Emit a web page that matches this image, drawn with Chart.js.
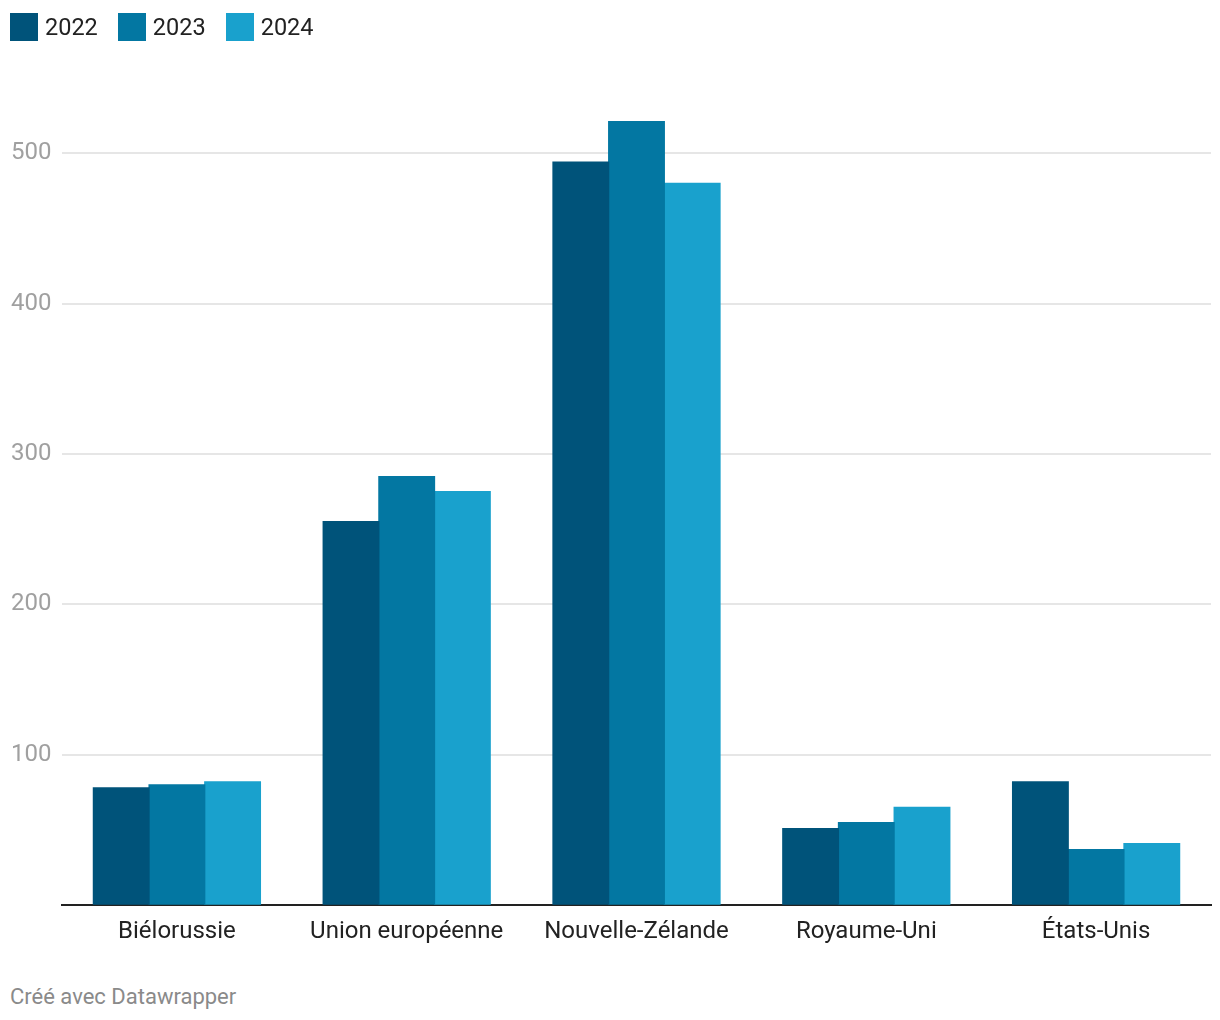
<!DOCTYPE html>
<html lang="fr">
<head>
    <meta charset="UTF-8">
    <title>Datawrapper bar chart</title>
    <script src="https://cdn.jsdelivr.net/npm/chart.js@4.4.1/dist/chart.umd.min.js"></script>
    <style>
        body {
            margin: 0;
            background: #fff;
            font-family: Roboto, "Noto Sans", sans-serif;
        }
        .wrap {
            position: relative;
            width: 1220px;
            height: 1020px;
        }
        .legend {
            position: absolute;
            left: 10px;
            top: 13px;
            display: flex;
            font-size: 23.5px;
            color: #222;
        }
        .legend-item {
            display: flex;
            align-items: center;
            margin-right: 20px;
            height: 28px;
        }
        .legend-item span.box {
            width: 28px;
            height: 28px;
            margin-right: 7px;
        }
        .chart-box {
            position: absolute;
            left: 0;
            top: 0;
            width: 1220px;
            height: 960px;
        }
        .footer {
            position: absolute;
            left: 10px;
            top: 984px;
            font-size: 22px;
            color: #8a8a8a;
        }
    </style>
</head>
<body>
<div class="wrap">
    <div class="chart-box"><canvas id="chart" width="1220" height="960"></canvas></div>
    <div class="legend" id="legend"></div>
    <div class="footer">Créé avec Datawrapper</div>
</div>

<script>
    const categories = ['Biélorussie', 'Union européenne', 'Nouvelle-Zélande', 'Royaume-Uni', 'États-Unis'];
    const years = ['2022', '2023', '2024'];
    const values2022 = [78, 255, 494, 51, 82];
    const values2023 = [80, 285, 521, 55, 37];
    const values2024 = [82, 275, 480, 65, 41];
    const colors = ['#00537a', '#0377a2', '#19a1cd'];

    const seriesValues = [values2022, values2023, values2024];

    // legend in html
    const legend = document.getElementById('legend');
    years.forEach((y, i) => {
        const item = document.createElement('div');
        item.className = 'legend-item';
        item.innerHTML = `<span class="box" style="background:${colors[i]}"></span>${y}`;
        legend.appendChild(item);
    });

    const ctx = document.getElementById('chart').getContext('2d');
    new Chart(ctx, {
        type: 'bar',
        data: {
            labels: categories,
            datasets: years.map((y, i) => ({
                label: y,
                data: seriesValues[i],
                backgroundColor: colors[i],
                borderWidth: 0,
                inflateAmount: 0.6,
                barPercentage: 1,
                categoryPercentage: 0.727
            }))
        },
        options: {
            responsive: false,
            animation: false,
            devicePixelRatio: 1,
            layout: {
                padding: { left: 11, right: 9, top: 93, bottom: 2 }
            },
            plugins: {
                legend: { display: false },
                tooltip: { enabled: false }
            },
            scales: {
                x: {
                    grid: { display: false, drawTicks: false },
                    border: { color: '#222', width: 2 },
                    ticks: {
                        color: '#222',
                        padding: 12,
                        font: { family: 'Roboto', size: 24 }
                    }
                },
                y: {
                    min: 0,
                    max: 540,
                    afterFit: scale => { scale.width = 51; },
                    border: { display: false },
                    grid: {
                        drawTicks: false,
                        lineWidth: 2,
                        color: c => (c.tick.value > 0 && c.tick.value % 100 === 0) ? '#e6e6e6' : 'rgba(0,0,0,0)'
                    },
                    ticks: {
                        stepSize: 100,
                        crossAlign: 'far',
                        padding: 0,
                        color: '#a0a0a0',
                        font: { family: 'Roboto', size: 24 },
                        callback: v => (v > 0 && v % 100 === 0) ? v : ''
                    }
                }
            }
        }
    });
</script>
</body>
</html>
